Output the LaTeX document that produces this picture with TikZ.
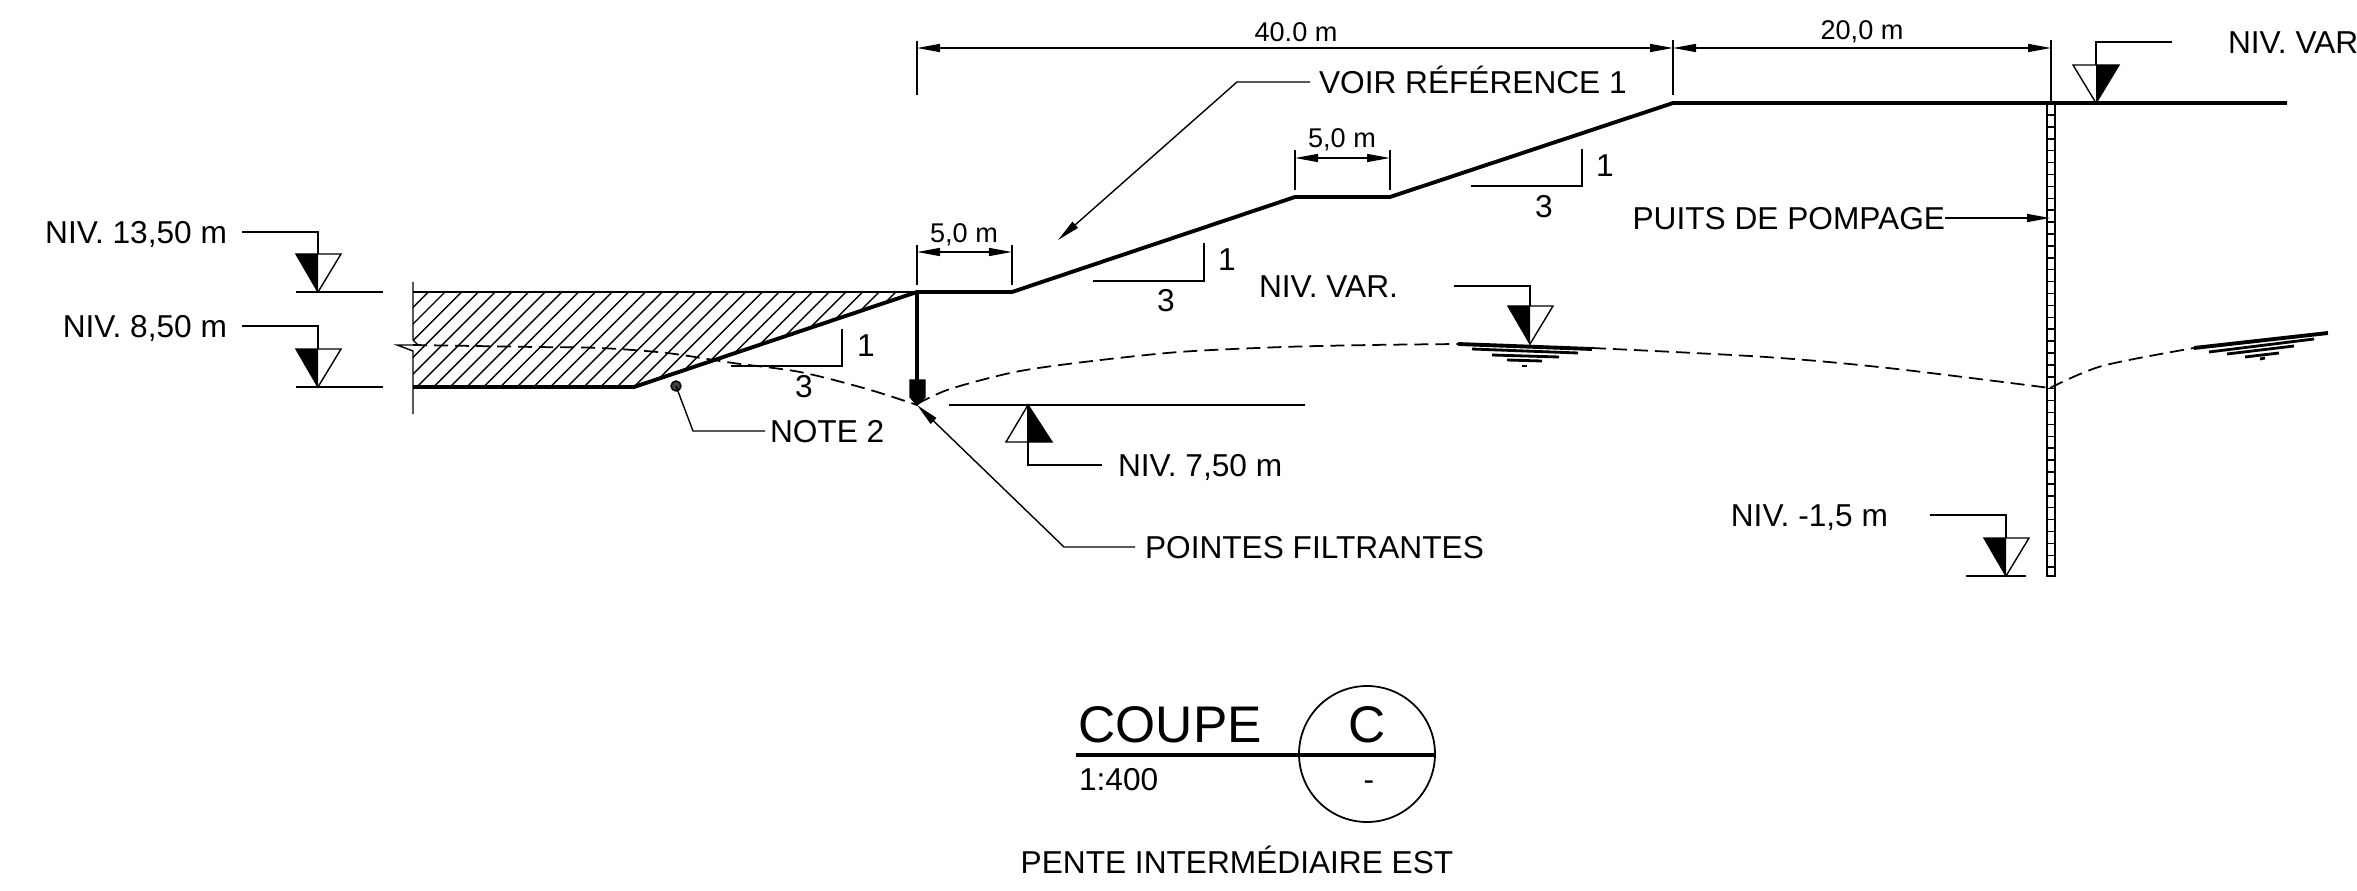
\documentclass[tikz,border=0pt]{standalone}
\usepackage{fontspec}
\setmainfont{Liberation Sans}
\usetikzlibrary{arrows.meta}
\tikzset{
  mince/.style={line width=0.4pt},
  profil/.style={line width=1.1pt},
  nappe/.style={line width=0.5pt,dash pattern=on 0.14cm off 0.07cm},
  cote/.style={line width=0.4pt,{Triangle[length=0.23cm,width=0.08cm]}-{Triangle[length=0.23cm,width=0.08cm]}},
  fleche/.style={line width=0.4pt,-{Triangle[length=0.23cm,width=0.08cm]}},
  lbl/.style={font=\fontsize{9pt}{11pt}\selectfont,inner sep=0pt,outer sep=0pt,text height=6.5pt,text depth=0pt},
  dim/.style={font=\fontsize{7.7pt}{9pt}\selectfont,inner sep=0pt,text height=5.5pt,text depth=0pt}
}
\begin{document}
\begin{tikzpicture}[x=0.01cm,y=-0.01cm]
\useasboundingbox (0,0) rectangle (2357,891);

%hatching of the cut
\begin{scope}
\clip (413,292) -- (917,292) -- (634,387) -- (413,387) -- cycle;
\foreach \x in {0,...,53} \draw[mince] (411.6+16.7*\x,292) -- (316.6+16.7*\x,387);
\end{scope}
\draw[mince] (413,292) -- (917,292);
\draw[mince] (413,282) -- (413,340) -- (418,345) -- (397,345) -- (413,351) -- (413,414);

%ground line
\draw[profil] (413,387) -- (634,387) -- (917,292) -- (1012,292) -- (1295,197) -- (1390,197) -- (1673,103) -- (2287,103);
\draw[line width=1.3pt] (917,292) -- (917,382);
\filldraw[fill=black,draw=black] (910,380) -- (925,380) -- (925,397) -- (917,405) -- (910,397) -- cycle;

%water table
\draw[nappe] plot[smooth] coordinates {(413,345) (536,347) (600,348) (667,353) (733,363) (800,372) (867,389) (917,405)};
\draw[nappe] plot[smooth] coordinates {(917,404) (950,389) (1015,372) (1084,362) (1179,352) (1283,347) (1371,345) (1459,344)};
\draw[nappe] plot[smooth] coordinates {(1592,348) (1766,357) (1888,368) (2050,388)};
\draw[nappe] plot[smooth] coordinates {(2050,388) (2102,366) (2194,348)};
\draw[profil] (1458,344) -- (1592,349);
\draw[line width=0.8pt] (1472,349) -- (1578,353);
\draw[line width=0.8pt] (1492,355) -- (1559,357);
\draw[line width=0.8pt] (1507,360) -- (1542,361);
\draw[line width=0.8pt] (1522,366) -- (1527,366);
\draw[profil] (2194,348) -- (2328,333);
\draw[line width=0.8pt] (2209,352) -- (2314,339);
\draw[line width=0.8pt] (2227,354) -- (2294,346);
\draw[line width=0.8pt] (2245,357) -- (2279,353);
\draw[line width=0.8pt] (2260,359) -- (2265,358);

%pumping well
\draw[mince] (2047,103) -- (2047,576) -- (2055,576) -- (2055,103);
\foreach \y in {0,...,38} \draw[mince] (2047,115+11.9*\y) -- (2055,115+11.9*\y);

%level marks, point down
\foreach \x/\y in {318/292,318/387,1530/344,2006/576} {
  \draw[mince] (\x-22,\y-38) -- (\x+23,\y-38) -- (\x,\y) -- cycle;
  \fill (\x-22,\y-38) -- (\x,\y-38) -- (\x,\y) -- cycle;
}
\draw[mince] (296,292) -- (383,292);
\draw[mince] (296,387) -- (383,387);
\draw[mince] (1966,576) -- (2026,576);
\node[lbl,anchor=east,outer sep=0.15cm] (niv13) at (242,232) {NIV. 13,50 m};
\draw[mince] (niv13.east) -- (318,232) -- (318,254);
\node[lbl,anchor=east,outer sep=0.15cm] (niv8) at (242,326) {NIV. 8,50 m};
\draw[mince] (niv8.east) -- (318,326) -- (318,349);
\node[lbl,anchor=east,outer sep=0.56cm] (nivvar) at (1454,286) {NIV. VAR.};
\draw[mince] (nivvar.east) -- (1530,286) -- (1530,306);
\node[lbl,anchor=east,outer sep=0.42cm] (nivpuits) at (1930,515) {NIV. -1,5 m};
\draw[mince] (nivpuits.east) -- (2006,515) -- (2006,538);

%level mark at the top, right half black
\draw[mince] (2073,65) -- (2119,65) -- (2096,103) -- cycle;
\fill (2096,65) -- (2119,65) -- (2096,103) -- cycle;
\node[lbl,anchor=west,outer sep=0.56cm] (nivhaut) at (2172,42) {NIV. VAR.};
\draw[mince] (nivhaut.west) -- (2096,42) -- (2096,65);

%level mark under the toe, pointing up
\draw[mince] (949,405) -- (1305,405);
\draw[mince] (1006,442) -- (1052,442) -- (1028,405) -- cycle;
\fill (1028,442) -- (1052,442) -- (1028,405) -- cycle;
\node[lbl,anchor=west,outer sep=0.16cm] (niv7) at (1102,465) {NIV. 7,50 m};
\draw[mince] (niv7.west) -- (1028,465) -- (1028,405);

%slopes
\draw[mince] (731,366) -- (842,366) -- (842,329);
\draw[mince] (1093,281) -- (1204,281) -- (1204,243);
\draw[mince] (1471,186) -- (1582,186) -- (1582,149);
\foreach \x/\y in {866/345,1227/259,1605/165} \node[lbl] (un\x) at (\x,\y) {1};
\foreach \x/\y in {804/386,1166/300,1544/206} \node[lbl] (trois\x) at (\x,\y) {3};

%dimensions
\draw[mince] (917,41) -- (917,95);
\draw[mince] (1673,40) -- (1673,95);
\draw[mince] (2051,40) -- (2051,103);
\draw[cote] (917,48) -- (1673,48);
\draw[cote] (1673,48) -- (2051,48);
\node[dim] (d40) at (1296,32) {40.0 m};
\node[dim] (d20) at (1862,30) {20,0 m};
\draw[mince] (917,245) -- (917,285);
\draw[mince] (1012,245) -- (1012,285);
\draw[cote] (917,252) -- (1012,252);
\node[dim] (d5a) at (964,233) {5,0 m};
\draw[mince] (1295,150) -- (1295,190);
\draw[mince] (1390,150) -- (1390,190);
\draw[cote] (1295,158) -- (1390,158);
\node[dim] (d5b) at (1342,138) {5,0 m};

%notes
\node[lbl,anchor=west,outer sep=0.09cm] (voir) at (1310,82) {VOIR RÉFÉRENCE 1};
\coordinate (voirpt) at (1058,240);
\draw[fleche] (voir.west) -- (1237,82) -- (voirpt);
\node[lbl,anchor=east,outer sep=0cm] (puits) at (1945,218) {PUITS DE POMPAGE};
\coordinate (puitspt) at (2050,218);
\draw[fleche] (puits.east) -- (puitspt);
\node[lbl,anchor=west,outer sep=0.05cm] (note) at (765,431) {NOTE 2};
\filldraw[fill=black!75,draw=black] (676,386) circle (5);
\coordinate (notept) at (676,386);
\draw[mince] (note.west) -- (693,431) -- (notept);
\node[lbl,anchor=west,outer sep=0.1cm] (pointes) at (1135,547) {POINTES FILTRANTES};
\coordinate (pointespt) at (917,405);
\draw[fleche] (pointes.west) -- (1064,547) -- (pointespt);

%title
\draw[profil] (1076,755) -- (1436,755);
\draw[line width=0.5pt] (1367,754) circle (68);
\node[anchor=west,inner sep=0pt,font=\fontsize{14.65pt}{17pt}\selectfont,text height=10.5pt,text depth=0pt] (coupe) at (1078,724) {COUPE};
\node[inner sep=0pt,font=\fontsize{14.65pt}{17pt}\selectfont,text height=10.5pt,text depth=0pt] (lettre) at (1367,724) {C};
\node[lbl,anchor=west] (echelle) at (1079,779) {1:400};
\node[lbl,text height=3pt] (tiret) at (1369,785) {-};
\node[lbl] (pente) at (1237,862) {PENTE INTERMÉDIAIRE EST};

\end{tikzpicture}
\end{document}
